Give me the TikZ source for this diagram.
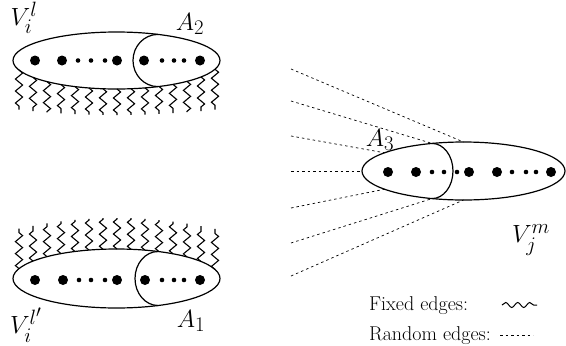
\documentclass[tikz,border=0pt]{standalone}
\usepackage{amsmath,amssymb}
\usepackage{xcolor}
\usepackage{tikz}
\usetikzlibrary{shapes.geometric,decorations.pathmorphing,calc}

\begin{document}
\begin{tikzpicture}[
    x=1pt, y=-1pt,
    setv/.style    ={ellipse, draw, line width=1.2pt, inner sep=0pt, outer sep=0pt},
    bigdot/.style  ={circle, fill, inner sep=0pt, minimum size=10pt},
    smalldot/.style={circle, fill, inner sep=0pt, minimum size=4.6pt},
    part/.style    ={line width=1.2pt},
    lab/.style     ={font=\Huge, inner sep=0pt},
    leg/.style     ={font=\fontsize{20}{24}\selectfont, anchor=base west, inner sep=0pt},
    fixedge/.style ={line width=1.1pt, decorate, decoration={zigzag, segment length=12pt, amplitude=3.6pt}},
    wave/.style    ={line width=1pt, decorate, decoration={snake, segment length=12pt, amplitude=2.5pt}},
    randedge/.style={line width=0.7pt, dash pattern=on 2.5pt off 3pt}
]
  \useasboundingbox (0,0) rectangle (566,346);

  % the three sets
  \node[setv, minimum width=207, minimum height=57] (Vil)  at (116.5,60.5)  {};
  \node[setv, minimum width=207, minimum height=59] (Vill) at (116.5,278.5) {};
  \node[setv, minimum width=203, minimum height=58] (Vjm)  at (463.5,171)   {};

  % subsets A_1, A_2, A_3
  \coordinate (A2t) at (158,34.4);
  \coordinate (A2b) at (158,86.6);
  \coordinate (A1t) at (158,251.5);
  \coordinate (A1b) at (158,305.5);
  \coordinate (A3t) at (432,143.4);
  \coordinate (A3b) at (432,198.6);
  \draw[part] (A2t) arc[start angle=270, end angle=90, x radius=25, y radius=26.1];
  \draw[part] (A1t) arc[start angle=270, end angle=90, x radius=23, y radius=27];
  \draw[part] (A3t) arc[start angle=270, end angle=450, x radius=21, y radius=27.6];

  % vertices
  \foreach \x [count=\i] in {35,62,117,144,200}      \node[bigdot]   (ub\i) at (\x,60.5) {};
  \foreach \x [count=\i] in {78,91,105,162,174,184}  \node[smalldot] (us\i) at (\x,60.5) {};
  \foreach \x [count=\i] in {35,63,117,145,200}      \node[bigdot]   (lb\i) at (\x,280) {};
  \foreach \x [count=\i] in {79,91,105,162,174,184}  \node[smalldot] (ls\i) at (\x,280) {};
  \foreach \x [count=\i] in {388,416,469,497,551}    \node[bigdot]   (rb\i) at (\x,172) {};
  \foreach \x [count=\i] in {432,444,457,512,526,536}\node[smalldot] (rs\i) at (\x,172) {};

  % fixed edges
  \foreach \k in {0,...,14} {
    \pgfmathsetmacro\zx{19+14*\k}
    \pgfmathsetmacro\zr{(\zx-116.5)/103.5}
    \coordinate (zu\k)  at (\zx,{60.5+28.5*sqrt(1-\zr*\zr)});
    \coordinate (zue\k) at (\zx,{115-6*\zr*\zr});
    \draw[fixedge] (zu\k) -- (zue\k);
    \coordinate (zl\k)  at (\zx,{278.5-29.5*sqrt(1-\zr*\zr)});
    \coordinate (zle\k) at (\zx,{218+12*\zr*\zr});
    \draw[fixedge] (zl\k) -- (zle\k);
  }

  % random edges
  \foreach \y [count=\i] in {69,101,136,171,208,243,276} \coordinate (r\i) at (291,\y);
  \draw[randedge] (r1) -- (Vjm.north);
  \draw[randedge] (r2) -- (A3t);
  \draw[randedge] (r3) -- (Vjm.167);
  \draw[randedge] (r4) -- (Vjm.west);
  \draw[randedge] (r5) -- (Vjm.193);
  \draw[randedge] (r6) -- (A3b);
  \draw[randedge] (r7) -- (Vjm.south);

  % labels
  \node[lab] (lVil)  at (24,18)   {$V_i^l$};
  \node[lab] (lA2)   at (190,24)  {$A_2$};
  \node[lab] (lVill) at (26,325)  {$V_i^{l'}$};
  \node[lab] (lA1)   at (191,321) {$A_1$};
  \node[lab] (lA3)   at (380,140) {$A_3$};
  \node[lab] (lVjm)  at (531,240) {$V_j^m$};

  % legend
  \node[leg] (lfix)  at (369,310) {Fixed edges:};
  \node[leg] (lrand) at (369,340) {Random edges:};
  \coordinate (w1) at (502,305);
  \coordinate (w2) at (537,305);
  \coordinate (d1) at (500,335);
  \coordinate (d2) at (533,335);
  \draw[wave] (w1) -- (w2);
  \draw[randedge] (d1) -- (d2);
\end{tikzpicture}
\end{document}
